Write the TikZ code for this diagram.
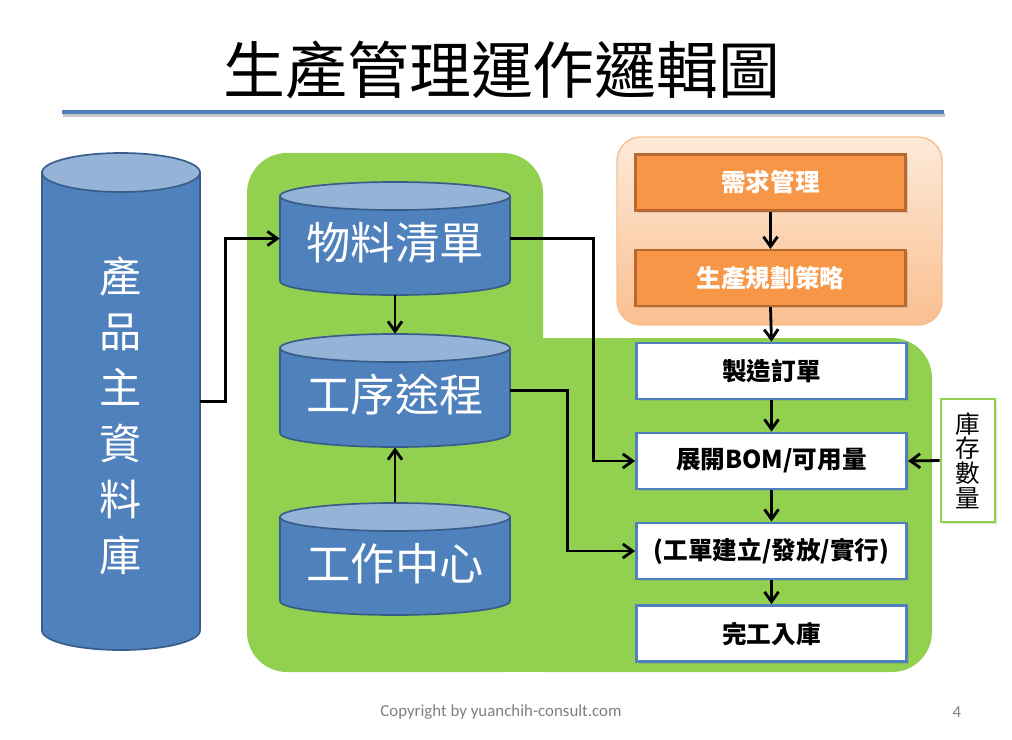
\documentclass[tikz,border=0pt]{standalone}
\usepackage{fontspec}
\usepackage{tikz}
\usetikzlibrary{arrows.meta,shadows}
\newfontfamily\cjk{Noto Sans CJK TC}
\newfontfamily\footfont{Carlito}
\definecolor{pm_blue}{RGB}{79,129,189}
\definecolor{pm_top}{RGB}{149,179,215}
\definecolor{pm_edge}{RGB}{56,93,138}
\definecolor{pm_green}{RGB}{146,208,80}
\definecolor{pm_orange}{RGB}{247,150,70}
\definecolor{pm_brown}{RGB}{185,105,45}
\definecolor{pm_peach}{RGB}{253,234,218}
\definecolor{pm_apricot}{RGB}{250,191,143}
\definecolor{pm_grey}{RGB}{128,128,128}
% database drum: centre x, top y, bottom y, x radius, y radius (pixels)
\newcommand{\dbshape}[5]{%
  \filldraw [fill=pm_blue, draw=pm_edge, line width=1.2pt]
    (#1-#4,#2+#5) -- (#1-#4,#3-#5)
    arc [start angle=180, end angle=360, x radius=#4*0.025cm, y radius=#5*0.025cm]
    -- (#1+#4,#2+#5) -- cycle;
  \filldraw [fill=pm_top, draw=pm_edge, line width=1.2pt]
    (#1,#2+#5) ellipse [x radius=#4*0.025cm, y radius=#5*0.025cm];}
\tikzstyle{db}=[rectangle,text=white,inner sep=0pt,
  minimum width=5.75cm,minimum height=2.83cm,text height=32pt,text depth=2pt,
  font=\cjk\fontsize{31.5}{36}\selectfont]
\tikzstyle{sb}=[rectangle,draw=pm_blue,fill=white,line width=2pt,
  minimum width=6.75cm,minimum height=1.4cm,
  font=\cjk\bfseries\fontsize{17.5}{20}\selectfont,
  drop shadow={opacity=0.25,shadow xshift=1.5pt,shadow yshift=-1.5pt}]
\tikzstyle{ob}=[sb,fill=pm_orange,draw=pm_brown,line width=1.5pt,text=white]
\tikzstyle{arr}=[line width=2pt,-{Straight Barb[length=7pt,width=10pt]}]

\begin{document}
\begin{tikzpicture}[x=0.025cm,y=-0.025cm]
    \useasboundingbox (0,0) rectangle (1012,739);
    \fill [white] (0,0) rectangle (1012,739);
    % title and rule
    \node [font=\cjk\fontsize{44}{50}\selectfont] (title) at (502,70) {生產管理運作邏輯圖};
    \draw [pm_grey!45, line width=3pt] (63,115) -- (945,115);
    \draw [pm_blue, line width=3pt] (62,112) -- (944,112);
    % background zones
    \fill [pm_green, rounded corners=1cm] (247,153) rectangle (543,672);
    \fill [pm_green, rounded corners=1cm] (503,338) rectangle (932,672);
    \fill [pm_green] (480,338) rectangle (600,672);
    \draw [draw=pm_apricot, line width=1pt, top color=pm_peach, bottom color=pm_apricot,
      rounded corners=0.6cm] (617,137) rectangle (942,325);
    % databases
    \dbshape{121}{153}{650}{79}{19.5}
    \dbshape{395}{182}{295}{115}{14}
    \dbshape{395}{334}{447}{115}{14}
    \dbshape{395}{503}{615}{115}{14}
    \node [style=db, minimum width=3.95cm, minimum height=12.43cm] (master)
      at (121,401.5) {};
    \node [align=center, text=white, font=\cjk\fontsize{30}{39.7}\selectfont] (mastertext)
      at (121,415.5) {產\\品\\主\\資\\料\\庫};
    \node [style=db] (bom) at (395,238.5) {物料清單};
    \node [style=db] (route) at (395,390.5) {工序途程};
    \node [style=db] (wc) at (395,559) {工作中心};
    % planning
    \node [style=ob] (demand) at (770.5,182.5) {需求管理};
    \node [style=ob] (plan) at (770.5,278) {生產規劃策略};
    % shop floor
    \node [style=sb] (mo) at (771.5,371) {製造訂單};
    \node [style=sb] (expand) at (771.5,461) {展開BOM/可用量};
    \node [style=sb] (wo) at (771.5,551) {(工單建立/發放/實行)};
    \node [style=sb] (done) at (771.5,633.5) {完工入庫};
    \node [style=sb, draw=pm_green, minimum width=1.35cm, minimum height=3.075cm,
      align=center, font=\cjk\fontsize{17.5}{17.5}\selectfont] (stock) at (968,460.5)
      {庫\\存\\數\\量};
    % flows
    \draw [style=arr] (master.east) -- ++(25,0) |- (bom.west);
    \draw [style=arr] (bom.south) to (route.north);
    \draw [style=arr] (wc.north) to (route.south);
    \draw [style=arr] (bom.east) -- ++(83,0) |- (expand.west);
    \draw [style=arr] (route.east) -- ++(57,0) |- (wo.west);
    \draw [style=arr] (demand.south) to (plan.north);
    \draw [style=arr] (plan.south) to (mo.north);
    \draw [style=arr] (mo.south) to (expand.north);
    \draw [style=arr] (expand.south) to (wo.north);
    \draw [style=arr] (wo.south) to (done.north);
    \draw [style=arr] (stock.west) to (expand.east);
    % footer
    \node [font=\footfont\fontsize{12}{14}\selectfont, text=pm_grey] (copy) at (501,712)
      {Copyright by yuanchih-consult.com};
    \node [font=\footfont\fontsize{12}{14}\selectfont, text=pm_grey] (page) at (957,712) {4};
  \end{tikzpicture}
\end{document}
